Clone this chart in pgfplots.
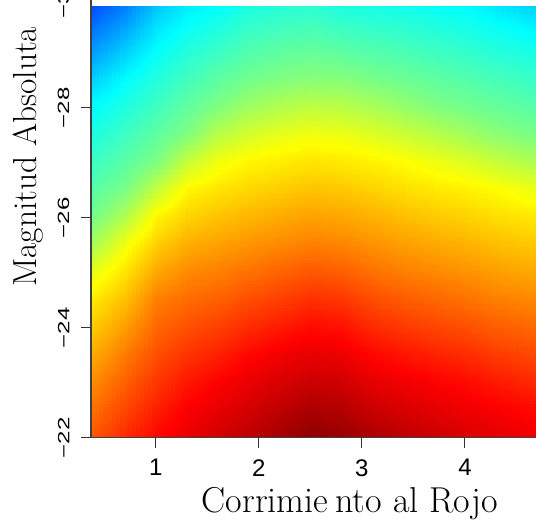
\documentclass[border=0pt]{standalone}
\usepackage{fontspec}
\usepackage{graphicx}
\usepackage{pgfplots}
\pgfplotsset{compat=1.18}
\usepgfplotslibrary{patchplots}
\usetikzlibrary{calc}
\newfontfamily\tickfont{Liberation Sans}

\pgfplotstableread{
x y c
0.37 -22 0.79
0.7 -22 0.835
1.0 -22 0.87
1.3 -22 0.895
1.6 -22 0.92
1.9 -22 0.94
2.2 -22 0.965
2.5 -22 0.985
2.8 -22 0.975
3.1 -22 0.955
3.4 -22 0.94
3.7 -22 0.925
4.0 -22 0.91
4.3 -22 0.9
4.75 -22 0.885
0.37 -22.5 0.765
0.7 -22.5 0.808
1.0 -22.5 0.846
1.3 -22.5 0.878
1.6 -22.5 0.8975
1.9 -22.5 0.917
2.2 -22.5 0.939
2.5 -22.5 0.957
2.8 -22.5 0.948
3.1 -22.5 0.926
3.4 -22.5 0.913
3.7 -22.5 0.90
4.0 -22.5 0.889
4.3 -22.5 0.879
4.75 -22.5 0.8625
0.37 -23 0.7375
0.7 -23 0.782
1.0 -23 0.822
1.3 -23 0.853
1.6 -23 0.875
1.9 -23 0.894
2.2 -23 0.912
2.5 -23 0.926
2.8 -23 0.919
3.1 -23 0.898
3.4 -23 0.886
3.7 -23 0.875
4.0 -23 0.865
4.3 -23 0.849
4.75 -23 0.831
0.37 -23.5 0.706
0.7 -23.5 0.755
1.0 -23.5 0.798
1.3 -23.5 0.825
1.6 -23.5 0.844
1.9 -23.5 0.868
2.2 -23.5 0.886
2.5 -23.5 0.896
2.8 -23.5 0.89
3.1 -23.5 0.868
3.4 -23.5 0.854
3.7 -23.5 0.841
4.0 -23.5 0.831
4.3 -23.5 0.816
4.75 -23.5 0.80
0.37 -24 0.675
0.7 -24 0.722
1.0 -24 0.774
1.3 -24 0.797
1.6 -24 0.8125
1.9 -24 0.833
2.2 -24 0.8485
2.5 -24 0.864
2.8 -24 0.857
3.1 -24 0.833
3.4 -24 0.819
3.7 -24 0.807
4.0 -24 0.797
4.3 -24 0.783
4.75 -24 0.769
0.37 -24.5 0.644
0.7 -24.5 0.687
1.0 -24.5 0.75
1.3 -24.5 0.769
1.6 -24.5 0.781
1.9 -24.5 0.799
2.2 -24.5 0.813
2.5 -24.5 0.828
2.8 -24.5 0.82
3.1 -24.5 0.799
3.4 -24.5 0.785
3.7 -24.5 0.774
4.0 -24.5 0.7635
4.3 -24.5 0.75
4.75 -24.5 0.7375
0.37 -25 0.60
0.7 -25 0.653
1.0 -25 0.711
1.3 -25 0.739
1.6 -25 0.75
1.9 -25 0.764
2.2 -25 0.778
2.5 -25 0.789
2.8 -25 0.782
3.1 -25 0.764
3.4 -25 0.75
3.7 -25 0.7405
4.0 -25 0.731
4.3 -25 0.719
4.75 -25 0.706
0.37 -25.5 0.5375
0.7 -25.5 0.6125
1.0 -25.5 0.672
1.3 -25.5 0.704
1.6 -25.5 0.717
1.9 -25.5 0.730
2.2 -25.5 0.740
2.5 -25.5 0.75
2.8 -25.5 0.744
3.1 -25.5 0.731
3.4 -25.5 0.719
3.7 -25.5 0.709
4.0 -25.5 0.70
4.3 -25.5 0.6875
4.75 -25.5 0.675
0.37 -26 0.489
0.7 -26 0.55
1.0 -26 0.633
1.3 -26 0.668
1.6 -26 0.6835
1.9 -26 0.697
2.2 -26 0.707
2.5 -26 0.716
2.8 -26 0.710
3.1 -26 0.6995
3.4 -26 0.6875
3.7 -26 0.677
4.0 -26 0.669
4.3 -26 0.656
4.75 -26 0.644
0.37 -26.5 0.46
0.7 -26.5 0.494
1.0 -26.5 0.566
1.3 -26.5 0.632
1.6 -26.5 0.650
1.9 -26.5 0.664
2.2 -26.5 0.674
2.5 -26.5 0.683
2.8 -26.5 0.678
3.1 -26.5 0.668
3.4 -26.5 0.656
3.7 -26.5 0.646
4.0 -26.5 0.6375
4.3 -26.5 0.625
4.75 -26.5 0.600
0.37 -27 0.432
0.7 -27 0.464
1.0 -27 0.497
1.3 -27 0.569
1.6 -27 0.612
1.9 -27 0.632
2.2 -27 0.641
2.5 -27 0.649
2.8 -27 0.645
3.1 -27 0.636
3.4 -27 0.625
3.7 -27 0.607
4.0 -27 0.591
4.3 -27 0.568
4.75 -27 0.5375
0.37 -27.5 0.403
0.7 -27.5 0.435
1.0 -27.5 0.467
1.3 -27.5 0.5
1.6 -27.5 0.556
1.9 -27.5 0.583
2.2 -27.5 0.600
2.5 -27.5 0.611
2.8 -27.5 0.605
3.1 -27.5 0.592
3.4 -27.5 0.573
3.7 -27.5 0.554
4.0 -27.5 0.534
4.3 -27.5 0.511
4.75 -27.5 0.4875
0.37 -28 0.375
0.7 -28 0.405
1.0 -28 0.4375
1.3 -28 0.4695
1.6 -28 0.5
1.9 -28 0.531
2.2 -28 0.550
2.5 -28 0.5605
2.8 -28 0.555
3.1 -28 0.541
3.4 -28 0.521
3.7 -28 0.5
4.0 -28 0.487
4.3 -28 0.474
4.75 -28 0.456
0.37 -28.5 0.327
0.7 -28.5 0.375
1.0 -28.5 0.408
1.3 -28.5 0.439
1.6 -28.5 0.466
1.9 -28.5 0.487
2.2 -28.5 0.5
2.5 -28.5 0.508
2.8 -28.5 0.505
3.1 -28.5 0.491
3.4 -28.5 0.480
3.7 -28.5 0.4675
4.0 -28.5 0.456
4.3 -28.5 0.443
4.75 -28.5 0.425
0.37 -29 0.279
0.7 -29 0.329
1.0 -29 0.378
1.3 -29 0.409
1.6 -29 0.432
1.9 -29 0.455
2.2 -29 0.467
2.5 -29 0.473
2.8 -29 0.465
3.1 -29 0.456
3.4 -29 0.447
3.7 -29 0.435
4.0 -29 0.424
4.3 -29 0.410
4.75 -29 0.394
0.37 -29.5 0.232
0.7 -29.5 0.282
1.0 -29.5 0.344
1.3 -29.5 0.378
1.6 -29.5 0.399
1.9 -29.5 0.423
2.2 -29.5 0.433
2.5 -29.5 0.439
2.8 -29.5 0.427
3.1 -29.5 0.420
3.4 -29.5 0.413
3.7 -29.5 0.403
4.0 -29.5 0.392
4.3 -29.5 0.378
4.75 -29.5 0.355
0.37 -29.85 0.20
0.7 -29.85 0.25
1.0 -29.85 0.32
1.3 -29.85 0.355
1.6 -29.85 0.375
1.9 -29.85 0.40
2.2 -29.85 0.41
2.5 -29.85 0.415
2.8 -29.85 0.40
3.1 -29.85 0.395
3.4 -29.85 0.39
3.7 -29.85 0.38
4.0 -29.85 0.37
4.3 -29.85 0.35
4.75 -29.85 0.32
}\magtable

\begin{document}
\begin{tikzpicture}
\begin{axis}[
  scale only axis,
  width=342.2pt, height=354.75pt,
  xmin=0.37, xmax=4.8, ymin=-30.6, ymax=-22,
  y dir=reverse,
  enlargelimits=false,
  axis on top,
  colormap/jet,
  point meta min=0, point meta max=1,
  xtick={1,2,3,4},
  xticklabels={1,2,3,4},
  ytick={-30,-28,-26,-24,-22},
  yticklabels={\scalebox{1}[0.68]{−30},\scalebox{1}[0.68]{−28},\scalebox{1}[0.68]{−26},\scalebox{1}[0.68]{−24},\scalebox{1}[0.68]{−22}},
  tick align=outside,
  major tick length=7.5pt,
  axis line style={black!75, line width=0.8pt},
  tick style={black!80, line width=0.8pt},
  xticklabel style={anchor=north, inner sep=0pt, yshift=-8.5pt, font=\tickfont\fontsize{18}{21}\selectfont},
  yticklabel style={xshift=-8.5pt, rotate=90, anchor=south, inner sep=0pt, font=\tickfont\fontsize{18}{21}\selectfont},
]
\addplot[surf, shader=interp, patch type=bilinear, point meta=explicit, mesh/cols=15] table[x=x, y=y, meta=c] {\magtable};
\coordinate (bl) at (axis cs:0.37,-22);
\coordinate (tr) at (axis cs:4.69,-29.96);
\coordinate (xlab) at (axis cs:2.883,-22);
\coordinate (ylab) at (axis cs:0.37,-27.11);
\end{axis}
\node[anchor=base, inner sep=0pt, font=\fontsize{27}{32}\selectfont] at ($(xlab)+(0,-56.25pt)$) {Corrimie\hspace{0.2em}nto al Rojo};
\node[anchor=base, rotate=90, inner sep=0pt, font=\fontsize{25}{30}\selectfont] at ($(ylab)+(-41.25pt,0)$) {Magnitud Absoluta};
\pgfresetboundingbox
\useasboundingbox ($(bl)+(-68.25pt,-63.75pt)$) rectangle (tr);
\end{tikzpicture}
\end{document}
